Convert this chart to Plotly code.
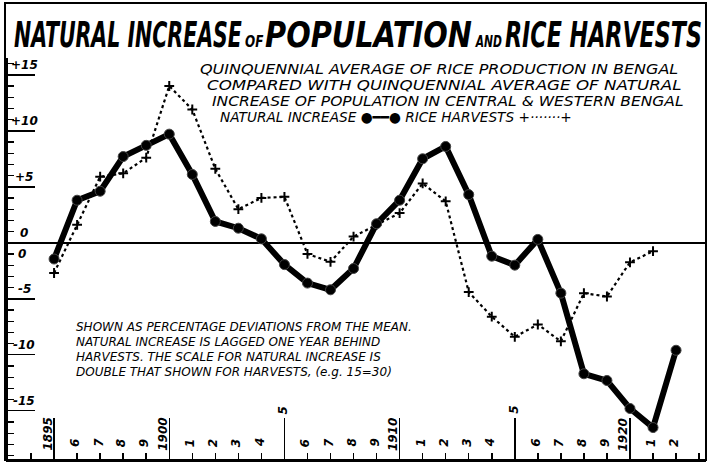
import plotly.graph_objects as go

# ---------------- data ----------------
years = list(range(1895, 1923))
natural_increase = [-1.45, 3.8, 4.6, 7.7, 8.7, 9.7, 6.1, 1.9, 1.3, 0.35,
                    -1.95, -3.6, -4.2, -2.3, 1.7, 3.8, 7.5, 8.6, 4.3, -1.2,
                    -2.0, 0.3, -4.5, -11.7, -12.3, -14.8, -16.5, -9.6]
rice_years = list(range(1895, 1922))
rice_harvests = [-2.7, 1.6, 5.9, 6.2, 7.6, 14.0, 11.9, 6.6, 3.0, 4.0,
                 4.1, -1.0, -1.7, 0.55, 1.6, 2.65, 5.3, 3.7, -4.4, -6.6,
                 -8.4, -7.3, -8.8, -4.5, -4.8, -1.75, -0.75]
x_tick_labels = ["1895", "6", "7", "8", "9", "1900", "1", "2", "3", "4",
                 "5", "6", "7", "8", "9", "1910", "1", "2", "3", "4",
                 "5", "6", "7", "8", "9", "1920", "1", "2"]
y_tick_values = [15, 10, 5, 0, -5, -10, -15]
y_tick_labels = ["+15", "+10", "+5", "0", "-5", "-10", "-15"]

title_words = ["NATURAL INCREASE", "OF", "POPULATION", "AND", "RICE HARVESTS"]
subtitle_lines = [
    "QUINQUENNIAL AVERAGE OF RICE PRODUCTION IN BENGAL",
    "COMPARED WITH QUINQUENNIAL AVERAGE OF NATURAL",
    "INCREASE OF POPULATION IN CENTRAL &amp; WESTERN BENGAL",
    "NATURAL INCREASE ●━━● RICE HARVESTS +·······+",
]
note_lines = [
    "SHOWN AS PERCENTAGE DEVIATIONS FROM THE MEAN.",
    "NATURAL INCREASE IS LAGGED ONE YEAR BEHIND",
    "HARVESTS. THE SCALE FOR NATURAL INCREASE IS",
    "DOUBLE THAT SHOWN FOR HARVESTS, (e.g. 15=30)",
]

# ---------------- layout helpers ----------------
W, H = 709, 470
ML, MR, MT, MB = 8, 3, 58, 10
PW, PH = W - ML - MR, H - MT - MB


def px(xp):
    return (xp - ML) / PW


def py(yp):
    return (H - MB - yp) / PH


HAND = "DejaVu Sans, Verdana, sans-serif"
TITLE_FONT = "Liberation Sans Narrow, DejaVu Sans Condensed, Liberation Sans, Arial, sans-serif"

fig = go.Figure()

fig.add_trace(go.Scatter(
    x=rice_years, y=rice_harvests, mode="lines+markers",
    line=dict(color="black", width=2.2, dash="dot"),
    marker=dict(symbol="cross-thin", size=7, color="black",
                line=dict(width=2, color="black")),
    name="RICE HARVESTS", showlegend=False,
))
fig.add_trace(go.Scatter(
    x=years, y=natural_increase, mode="lines+markers",
    line=dict(color="black", width=6),
    marker=dict(symbol="circle", size=10, color="black",
                line=dict(width=1, color="#444")),
    name="NATURAL INCREASE", showlegend=False,
))

annotations = []
# title words (indices 0-4): big words and small connecting words
title_pos = [(12, 34, 36), (243, 42, 15), (263, 34, 36), (473, 42, 15),
             (503, 34, 36)]
for word, (xp, yp, fs) in zip(title_words, title_pos):
    annotations.append(dict(
        text=word, xref="paper", yref="paper", x=px(xp), y=py(yp),
        xanchor="left", yanchor="middle", align="left", showarrow=False,
        font=dict(family=TITLE_FONT, size=fs, color="black", weight="bold",
                  style="italic"),
    ))
# subtitle block (indices 5-8)
sub_pos = [(198, 69), (205, 85), (210, 101), (218, 117)]
for txt, (xp, yp) in zip(subtitle_lines, sub_pos):
    annotations.append(dict(
        text=txt, xref="paper", yref="paper", x=px(xp), y=py(yp),
        xanchor="left", yanchor="middle", align="left", showarrow=False,
        font=dict(family=HAND, size=14, color="black", style="italic"),
    ))
# note block
note_pos = [(74, 327), (74, 342), (74, 357), (74, 372)]
for txt, (xp, yp) in zip(note_lines, note_pos):
    annotations.append(dict(
        text=txt, xref="paper", yref="paper", x=px(xp), y=py(yp),
        xanchor="left", yanchor="middle", showarrow=False,
        font=dict(family=HAND, size=12, color="black", style="italic"),
    ))
# y tick labels (sit above their long tick)
for v, lab in zip(y_tick_values, y_tick_labels):
    annotations.append(dict(
        text=lab, xref="paper", yref="y", x=0, y=v, xanchor="center",
        yanchor="bottom", xshift=16, yshift=1, showarrow=False,
        font=dict(family=HAND, size=12, color="black", style="italic",
                  weight="bold"),
    ))
# second zero (lower scale)
annotations.append(dict(
    text="0", xref="paper", yref="y", x=0, y=0, xanchor="center",
    yanchor="top", xshift=14, yshift=-2, showarrow=False,
    font=dict(family=HAND, size=12, color="black", style="italic",
              weight="bold"),
))
# x tick labels, rotated, inside the plot
for yr, lab in zip(years, x_tick_labels):
    if len(lab) == 4:
        xs, ys = -7, 7
    elif yr % 5 == 0:
        xs, ys = -1, 44
    else:
        xs, ys = -2, 11
    annotations.append(dict(
        text=lab, xref="x", yref="paper", x=yr, y=0, xanchor="center",
        yanchor="bottom", xshift=xs, yshift=ys, textangle=-90,
        showarrow=False,
        font=dict(family=HAND, size=12, color="black", style="italic",
                  weight="bold"),
    ))

fig.update_layout(
    width=W, height=H,
    margin=dict(l=ML, r=MR, t=MT, b=MB, pad=0),
    paper_bgcolor="white", plot_bgcolor="white",
    annotations=annotations,
    shapes=[dict(type="rect", xref="paper", yref="paper",
                 x0=px(5), x1=px(706), y0=py(460), y1=py(3),
                 line=dict(color="black", width=2), layer="above")],
    xaxis=dict(range=[1893.0, 1923.3], showgrid=False, zeroline=False,
               showline=True, linecolor="black", linewidth=2,
               tickmode="linear", tick0=1895, dtick=5, ticks="inside",
               ticklen=42, tickwidth=1.5, tickcolor="black",
               showticklabels=False,
               minor=dict(tickmode="linear", tick0=1895, dtick=1,
                          ticks="inside", ticklen=7, tickwidth=1.5,
                          tickcolor="black", showgrid=False)),
    yaxis=dict(range=[-19.4, 16.5], showgrid=False,
               zeroline=True, zerolinecolor="black", zerolinewidth=2,
               showline=True, linecolor="black", linewidth=2,
               tickmode="linear", tick0=0, dtick=5, ticks="inside",
               ticklen=27, tickwidth=1.5, tickcolor="black",
               showticklabels=False,
               minor=dict(tickmode="linear", tick0=0, dtick=1,
                          ticks="inside", ticklen=6, tickwidth=1.2,
                          tickcolor="black", showgrid=False)),
)

# scale the hand-lettered headings horizontally (anchored at their left
# edge) to the widths they have in the original
post = """
document.body.style.margin='0';document.body.style.padding='0';
var gd = document.getElementById('{plot_id}');
var widths = {0: 228, 1: 19, 2: 207, 3: 27, 4: 197, 5: 479, 6: 475, 7: 472, 8: 352};
function fitText(){
  Object.keys(widths).forEach(function(k){
    var t = gd.querySelector('.annotation[data-index="' + k + '"] text.annotation-text');
    if (!t) { return; }
    t.removeAttribute('transform');
    var b = t.getBBox();
    if (!b.width) { return; }
    var sx = widths[k] / b.width;
    t.setAttribute('transform', 'translate(' + b.x + ',0) scale(' + sx + ',1) translate(' + (-b.x) + ',0)');
  });
}
fitText();
if (gd.on) { gd.on('plotly_afterplot', fitText); }
"""
fig.write_html("out.html", post_script=post,
               config={"displayModeBar": False, "staticPlot": True})
